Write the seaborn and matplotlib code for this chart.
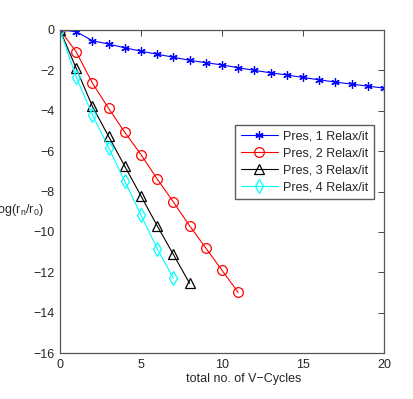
import numpy as np
import pandas as pd
import matplotlib
matplotlib.use("Agg")
import matplotlib.pyplot as plt
import seaborn as sns

# Values
x1 = list(range(21))
y1 = [0, -0.08, -0.53, -0.7, -0.88, -1.05, -1.2, -1.35, -1.5, -1.62, -1.73,
      -1.87, -2.0, -2.12, -2.23, -2.35, -2.47, -2.58, -2.68, -2.78, -2.88]
x2 = list(range(12))
y2 = [0, -1.08, -2.63, -3.88, -5.07, -6.17, -7.38, -8.52, -9.7, -10.8, -11.9, -13.0]
x3 = list(range(9))
y3 = [0, -1.9, -3.78, -5.27, -6.75, -8.22, -9.7, -11.12, -12.55]
x4 = list(range(8))
y4 = [0, -2.33, -4.2, -5.83, -7.5, -9.17, -10.83, -12.3]

labels = ["Pres, 1 Relax/it", "Pres, 2 Relax/it", "Pres, 3 Relax/it", "Pres, 4 Relax/it"]
colors = ["#0000ff", "#ff0000", "#000000", "#00ffff"]
markers = [(6, 2, 0), "o", "^", "d"]

sns.set_style("white")
plt.rcParams['font.family'] = ['Liberation Sans', 'DejaVu Sans']
plt.rcParams['mathtext.fontset'] = 'custom'
plt.rcParams['mathtext.rm'] = 'Liberation Sans'
plt.rcParams['mathtext.it'] = 'Liberation Sans'

fig = plt.figure(figsize=(4.14, 3.99), dpi=100)
ax = fig.add_axes([60 / 414, 1 - 353 / 399, 324 / 414, 323 / 399])

series = [(x1, y1), (x2, y2), (x3, y3), (x4, y4)]
for (xs, ys), lab, c, m in zip(series, labels, colors, markers):
    is_star = isinstance(m, tuple)
    sns.lineplot(x=xs, y=ys, ax=ax, color=c, marker=m, label=lab,
                 linewidth=0.8, markersize=6 if is_star else 7,
                 markerfacecolor="none" if not is_star else c,
                 markeredgecolor=c, markeredgewidth=0.9)

ax.set_xlim(0, 20)
ax.set_ylim(-16, 0)
ax.set_xticks([0, 5, 10, 15, 20])
ax.set_yticks(np.arange(-16, 1, 2))
ax.tick_params(direction="in", length=4, width=0.6, top=True, right=True,
               labelsize=9, pad=4)
for s in ax.spines.values():
    s.set_color("#555555")
    s.set_linewidth(0.9)

ax.set_xlabel("total no. of V\u2212Cycles", fontsize=9)
ax.xaxis.set_label_coords((244 - 60) / 324, -0.062)
ax.set_ylabel("log(r$_n$/r$_0$)", fontsize=9, rotation=0, va="center")
ax.yaxis.set_label_coords((19 - 60) / 324, (353 - 210) / 323)

leg = ax.legend(loc="upper right", fontsize=9, frameon=True, fancybox=False,
                handlelength=3.0, borderpad=0.45, labelspacing=0.4,
                handletextpad=0.4, borderaxespad=0,
                bbox_to_anchor=((374 - 60) / 324, 1 - (125 - 30) / 323))
leg.get_frame().set_edgecolor("#333333")
leg.get_frame().set_linewidth(1.0)

fig.savefig("out.png", dpi=100)
